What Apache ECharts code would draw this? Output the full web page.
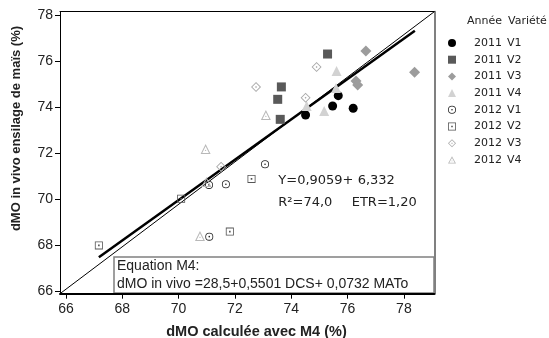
<!DOCTYPE html>
<html><head><meta charset="utf-8">
<script src="https://cdn.jsdelivr.net/npm/echarts@6/dist/echarts.min.js"></script>
<style>html,body{margin:0;padding:0;background:#fff}#c{width:549px;height:338px}</style>
</head><body><div id="c"></div>
<script>
// ---- data ----
const years = ['2011','2011','2011','2011','2012','2012','2012','2012'];
const varieties = ['V1','V2','V3','V4','V1','V2','V3','V4'];
const x2011V1 = [74.51, 75.47, 75.67, 76.20];
const y2011V1 = [73.68, 74.07, 74.52, 73.97];
const x2011V2 = [75.29, 73.65, 73.52, 73.61];
const y2011V2 = [76.33, 74.90, 74.36, 73.49];
const x2011V3 = [76.65, 78.38, 76.30, 76.36];
const y2011V3 = [76.46, 75.54, 75.16, 74.98];
const x2011V4 = [75.61, 75.59, 75.17, 74.55];
const y2011V4 = [75.59, 74.85, 73.85, 74.07];
const x2012V1 = [71.08, 71.68, 71.09, 73.07];
const y2012V1 = [70.64, 70.67, 68.39, 71.54];
const x2012V2 = [67.17, 70.09, 72.59, 71.82];
const y2012V2 = [68.01, 70.04, 70.90, 68.61];
const x2012V3 = [72.75, 74.90, 74.51, 71.51];
const y2012V3 = [74.90, 75.77, 74.43, 71.43];
const x2012V4 = [73.10, 70.96, 70.76, 70.99];
const y2012V4 = [73.68, 72.20, 68.42, 70.77];
const regX = [67.17, 78.39];
const regY = [67.49, 77.34];
const xRange = [65.79, 79.08];
const yRange = [65.91, 78.17];
const xTicks = [66, 68, 70, 72, 74, 76, 78];
const yTicks = [66, 68, 70, 72, 74, 76, 78];

// ---- build ----
const xs = [x2011V1,x2011V2,x2011V3,x2011V4,x2012V1,x2012V2,x2012V3,x2012V4];
const ys = [y2011V1,y2011V2,y2011V3,y2011V4,y2012V1,y2012V2,y2012V3,y2012V4];
const pair = (a,b) => a.map((v,i)=>[v,b[i]]);

const ringCircle = 'path://M10,0A10,10 0 1,1 10,20A10,10 0 1,1 10,0ZM10,2A8,8 0 1,0 10,18A8,8 0 1,0 10,2ZM10,8A2,2 0 1,1 10,12A2,2 0 1,1 10,8Z';
const ringSquare = 'path://M0,0H20V20H0ZM2,2V18H18V2ZM8,8H12V12H8Z';
const ringDiamond = 'path://M10,0L20,10L10,20L0,10ZM10,2.5L2.5,10L10,17.5L17.5,10ZM10,8L12,10L10,12L8,10Z';
const ringTriangle = 'path://M10,0L20,18L0,18ZM10,4L3.3,16.3L16.7,16.3ZM10,10L11.6,12.6L8.4,12.6Z';

const styles = [
  {symbol:'circle', size:9, color:'#000000'},
  {symbol:'rect', size:9, color:'#595959'},
  {symbol:'diamond', size:11, color:'#9c9c9c'},
  {symbol:'triangle', size:10, color:'#d2d2d2'},
  {symbol:ringCircle, size:8, color:'#222222'},
  {symbol:ringSquare, size:8, color:'#555555'},
  {symbol:ringDiamond, size:10, color:'#a8a8a8'},
  {symbol:ringTriangle, size:10, color:'#b8b8b8'}
];
const names = years.map((y,i)=>y+' '+varieties[i]);
const scatter = names.map((n,i)=>({
  name:n, type:'scatter', z:3,
  symbol:styles[i].symbol, symbolSize:styles[i].size,
  itemStyle:{color:styles[i].color, opacity:1},
  data:pair(xs[i], ys[i])
}));

const chart = echarts.init(document.getElementById('c'));
const txtFont = "'Liberation Sans', Arial, sans-serif";
const dvFont = "'DejaVu Sans', Verdana, sans-serif";
chart.setOption({
  animation:false,
  backgroundColor:'#fff',
  grid:{left:60, right:114.7, top:11.7, bottom:44.3},
  xAxis:[{
    type:'value', min:xRange[0], max:xRange[1], position:'bottom', z:20,
    axisLine:{show:true, lineStyle:{color:'#000', width:2}},
    axisTick:{show:true, length:5, customValues:xTicks, lineStyle:{color:'#000'}},
    axisLabel:{customValues:xTicks, margin:8, fontSize:14, fontFamily:txtFont, color:'#222'},
    splitLine:{show:false}
  },{
    type:'value', min:xRange[0], max:xRange[1], position:'top', z:20,
    axisLine:{show:true, lineStyle:{color:'#000', width:1}},
    axisTick:{show:false}, axisLabel:{show:false}, splitLine:{show:false}
  }],
  yAxis:[{
    type:'value', min:yRange[0], max:yRange[1], position:'left', z:20,
    axisLine:{show:true, lineStyle:{color:'#000', width:1}},
    axisTick:{show:true, length:5, customValues:yTicks, lineStyle:{color:'#000'}},
    axisLabel:{customValues:yTicks, margin:7, fontSize:14, fontFamily:txtFont, color:'#222'},
    splitLine:{show:false}
  },{
    type:'value', min:yRange[0], max:yRange[1], position:'right', z:20,
    axisLine:{show:true, lineStyle:{color:'#808080', width:2}},
    axisTick:{show:false}, axisLabel:{show:false}, splitLine:{show:false}
  }],
  legend:{
    data:names, orient:'vertical', left:448, top:35, padding:0,
    itemWidth:8, itemHeight:8, itemGap:0.7,
    formatter:n=>{const p=n.split(' ');return '{a|'+p[0]+'}{b|'+p[1]+'}';},
    textStyle:{fontFamily:dvFont, fontSize:11, color:'#222', padding:[0,0,0,13], lineHeight:16,
      rich:{a:{width:33, fontFamily:dvFont, fontSize:11, lineHeight:16, color:'#222'},
            b:{fontFamily:dvFont, fontSize:11, lineHeight:16, color:'#222'}}}
  },
  series:[
    {name:'diag', type:'line', z:1, symbol:'none', silent:true,
     lineStyle:{color:'#000', width:1}, data:[[xRange[0],yRange[0]],[xRange[1],yRange[1]]]},
    {name:'reg', type:'line', z:1, symbol:'none', silent:true,
     lineStyle:{color:'#000', width:2.5}, data:pair(regX, regY)}
  ].concat(scatter),
  graphic:[
    {type:'rect', z:10, shape:{x:114, y:257, width:320, height:36}, style:{fill:'#fff', stroke:'#808080', lineWidth:1.5}},
    {type:'text', z:11, x:117, y:266, style:{text:'Equation M4:', font:'14px '+txtFont, fill:'#222', verticalAlign:'middle'}},
    {type:'text', z:11, x:117, y:284, style:{text:'dMO in vivo =28,5+0,5501 DCS+ 0,0732 MATo', font:'14px '+txtFont, fill:'#222', verticalAlign:'middle'}},
    {type:'text', z:11, x:278.3, y:180.7, style:{text:'Y=0,9059+ 6,332', font:'13px '+dvFont, fill:'#222', verticalAlign:'middle'}},
    {type:'text', z:11, x:278.3, y:202.3, style:{text:'R²=74,0', font:'13px '+dvFont, fill:'#222', verticalAlign:'middle'}},
    {type:'text', z:11, x:351.7, y:202.3, style:{text:'ETR=1,20', font:'13px '+dvFont, fill:'#222', verticalAlign:'middle'}},
    {type:'text', z:11, x:256.5, y:331.7, style:{text:'dMO calculée avec M4 (%)', font:'bold 14.5px '+txtFont, fill:'#222', align:'center', verticalAlign:'middle'}},
    {type:'text', z:11, x:16.7, y:128.5, rotation:Math.PI/2, style:{text:'dMO in vivo ensilage de maïs (%)', font:'bold 13px '+txtFont, fill:'#222', align:'center', verticalAlign:'middle'}},
    {type:'text', z:11, x:467, y:21, style:{text:'Année', font:'11px '+dvFont, fill:'#222', verticalAlign:'middle'}},
    {type:'text', z:11, x:508, y:21, style:{text:'Variété', font:'11px '+dvFont, fill:'#222', verticalAlign:'middle'}}
  ]
});
</script></body></html>
